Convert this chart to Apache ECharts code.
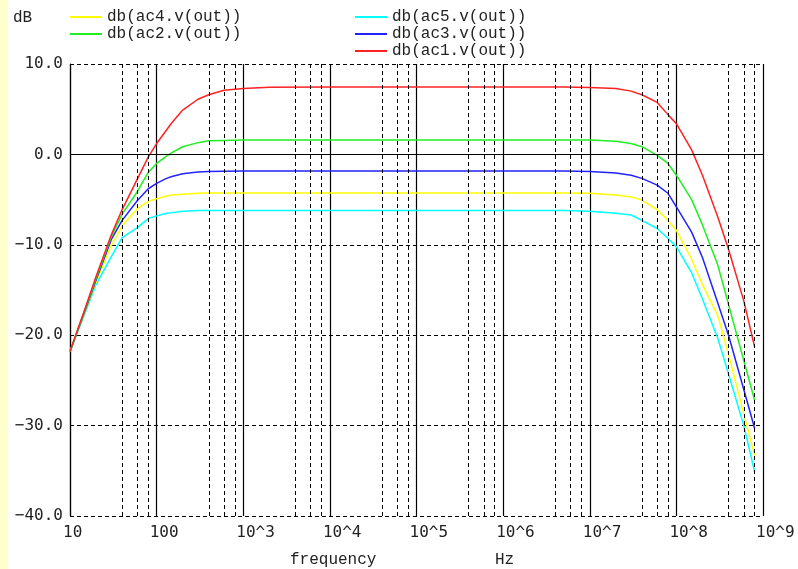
<!DOCTYPE html>
<html>
<head>
<meta charset="utf-8">
<script src="https://cdn.jsdelivr.net/npm/echarts@6/dist/echarts.min.js"></script>
<style>
  html, body { margin: 0; padding: 0; background: #ffffff; }
  #chart { width: 798px; height: 569px; }
</style>
</head>
<body>
<div id="chart"></div>
<script>
// AC sweep: gain (dB) of five circuit variants versus frequency (Hz)
const freq = [10, 15, 20, 30, 40, 60, 80, 100, 130, 150, 200, 300, 400, 600,
  1e3, 2e3, 1e4, 1e5, 1e6, 5e6, 1e7, 2e7, 3e7, 4e7, 6e7, 8e7, 1e8, 1.5e8, 2e8,
  3e8, 4e8, 6e8, 8e8];

const ac1 = [-21.8, -17.0, -13.5, -8.9, -6.1, -2.7, -0.3, 1.2, 2.7, 3.5, 4.9, 6.1, 6.6, 7.1,
  7.3, 7.42, 7.45, 7.45, 7.45, 7.45, 7.4, 7.3, 7.0, 6.6, 5.75, 4.4, 3.4, 0.5, -2.3,
  -6.9, -10.5, -16.2, -21.3];
const ac2 = [-21.8, -17.1, -13.7, -9.1, -6.6, -4.1, -2.0, -1.0, -0.2, 0.2, 0.85, 1.3, 1.5, 1.55,
  1.6, 1.6, 1.6, 1.6, 1.6, 1.6, 1.6, 1.45, 1.2, 0.85, -0.1, -1.0, -2.3, -5.0, -7.8,
  -12.2, -16.6, -22.8, -27.2];
const ac3 = [-21.8, -17.2, -13.9, -9.4, -7.3, -5.1, -3.8, -3.2, -2.65, -2.45, -2.15, -1.95, -1.9, -1.87,
  -1.85, -1.85, -1.85, -1.85, -1.85, -1.85, -1.9, -2.05, -2.3, -2.65, -3.4, -4.3, -5.8, -8.6, -11.4,
  -16.4, -20.0, -26.0, -30.3];
const ac4 = [-21.8, -17.3, -14.1, -10.1, -7.9, -6.0, -5.2, -4.9, -4.6, -4.5, -4.4, -4.3, -4.28, -4.28,
  -4.28, -4.28, -4.28, -4.28, -4.28, -4.28, -4.3, -4.5, -4.7, -5.05, -6.1, -7.3, -8.4, -11.6, -14.4,
  -17.8, -22.1, -28.7, -33.3];
const ac5 = [-21.8, -17.5, -14.4, -11.3, -9.2, -8.1, -7.1, -6.8, -6.5, -6.45, -6.3, -6.2, -6.2, -6.2,
  -6.2, -6.2, -6.2, -6.2, -6.2, -6.2, -6.3, -6.5, -6.7, -7.3, -8.2, -9.3, -10.2, -13.1, -16.0,
  -20.3, -24.3, -30.0, -35.1];

const xTickLabels = ['10', '100', '10^3', '10^4', '10^5', '10^6', '10^7', '10^8', '10^9'];
const yTickLabels = ['\u221240.0', '\u221230.0', '\u221220.0', '\u221210.0', '0.0', '10.0'];
const minorMultiples = [4, 6, 8];

const monoSans = 'DejaVu Sans Mono';
const monoText = 'Liberation Mono';

function curve(name, color, vals) {
  return {
    type: 'line',
    name: name,
    data: freq.map((f, i) => [f, vals[i]]),
    showSymbol: false,
    smooth: false,
    z: 3,
    lineStyle: { color: color, width: 1.5 },
    itemStyle: { color: color },
    emphasis: { disabled: true },
    animation: false
  };
}

// dashed sub-decade verticals at 4x, 6x, 8x and the solid 0 dB line
const gridMarks = [];
for (let e = 1; e <= 8; e++) {
  minorMultiples.forEach(m => {
    gridMarks.push({ xAxis: m * Math.pow(10, e), lineStyle: { type: [4, 3], color: '#000', width: 1 } });
  });
}
gridMarks.push({ yAxis: 0, lineStyle: { type: 'solid', color: '#000', width: 1.2 } });

const legendText = { fontFamily: monoText, fontSize: 16, lineHeight: 16, color: '#222' };

const chart = echarts.init(document.getElementById('chart'), null, { renderer: 'canvas' });

chart.setOption({
  backgroundColor: '#ffffff',
  animation: false,
  grid: { left: 70, right: 35, top: 64, bottom: 53, outerBoundsMode: 'none' },
  legend: [
    {
      orient: 'vertical', left: 70, top: 9, padding: 0, itemGap: 1,
      icon: 'rect', itemWidth: 32, itemHeight: 2,
      data: ['db(ac4.v(out))', 'db(ac2.v(out))'],
      textStyle: legendText,
      selectedMode: false
    },
    {
      orient: 'vertical', left: 355, top: 9, padding: 0, itemGap: 1,
      icon: 'rect', itemWidth: 32, itemHeight: 2,
      data: ['db(ac5.v(out))', 'db(ac3.v(out))', 'db(ac1.v(out))'],
      textStyle: legendText,
      selectedMode: false
    }
  ],
  xAxis: {
    type: 'log',
    logBase: 10,
    min: 10,
    max: 1e9,
    axisLine: { show: false, onZero: false },
    axisTick: { show: false },
    splitLine: { show: true, lineStyle: { color: '#000', width: 1.2, type: 'solid' } },
    axisLabel: {
      showMinLabel: true,
      showMaxLabel: true,
      margin: 9,
      align: 'left',
      padding: [0, 0, 0, -7],
      fontFamily: monoSans,
      fontSize: 16,
      color: '#222',
      formatter: v => xTickLabels[Math.round(Math.log10(v)) - 1] || ''
    }
  },
  yAxis: {
    type: 'value',
    min: -40,
    max: 10,
    interval: 10,
    axisLine: { show: true, onZero: false, lineStyle: { color: '#000', width: 1.2 } },
    axisTick: { show: false },
    splitLine: { show: true, lineStyle: { color: '#000', width: 1, type: [4, 3] } },
    axisLabel: {
      margin: 7,
      fontFamily: monoSans,
      fontSize: 16,
      color: '#222',
      formatter: v => yTickLabels[Math.round((v + 40) / 10)]
    }
  },
  graphic: [
    { type: 'rect', left: 0, top: 0, shape: { width: 7, height: 569 }, style: { fill: '#ffffcc' }, silent: true },
    { type: 'text', x: 13, y: 18, style: { text: 'dB', font: '16px "Liberation Mono"', fill: '#222', verticalAlign: 'middle' } },
    { type: 'text', x: 290, y: 560, style: { text: 'frequency', font: '16px "Liberation Mono"', fill: '#222', verticalAlign: 'middle' } },
    { type: 'text', x: 495, y: 560, style: { text: 'Hz', font: '16px "Liberation Mono"', fill: '#222', verticalAlign: 'middle' } }
  ],
  series: [
    {
      type: 'line',
      name: 'grid',
      data: [],
      z: 1,
      silent: true,
      markLine: {
        silent: true,
        animation: false,
        symbol: ['none', 'none'],
        label: { show: false },
        emphasis: { disabled: true },
        data: gridMarks
      }
    },
    curve('db(ac5.v(out))', '#00ffff', ac5),
    curve('db(ac4.v(out))', '#ffff00', ac4),
    curve('db(ac3.v(out))', '#2222ff', ac3),
    curve('db(ac2.v(out))', '#22ee22', ac2),
    curve('db(ac1.v(out))', '#ff2222', ac1)
  ]
});
</script>
</body>
</html>
